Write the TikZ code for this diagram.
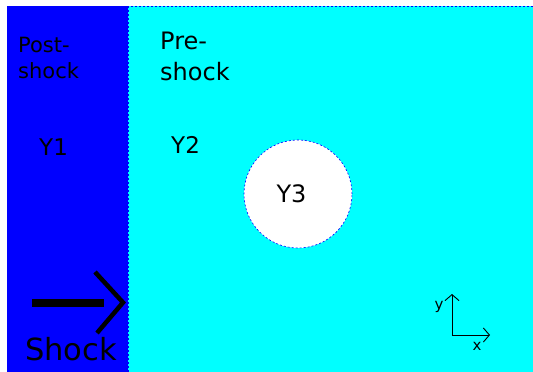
\documentclass[tikz,border=0pt]{standalone}
\usepackage{fontspec}
\setmainfont{DejaVu Sans}
\usetikzlibrary{arrows.meta}
\definecolor{postblue}{HTML}{0000FF}
\definecolor{precyan}{HTML}{00FFFF}
\tikzset{
  region/.style={draw=postblue, line width=0.6pt, dash pattern=on 2pt off 2pt},
  lbl/.style={inner sep=0pt, text=black},
  axisarrow/.style={line width=0.9pt, -{Straight Barb[length=6pt,width=14pt]}},
}
\begin{document}
\begin{tikzpicture}[x=1pt,y=-1pt]
  % canvas
  \fill[white] (0,0) rectangle (533,372);
  \useasboundingbox (0,0) rectangle (533,372);

  % post-shock and pre-shock regions
  \fill[postblue] (7,6) rectangle (128,372);
  \fill[precyan] (128,6) rectangle (533,372);
  \draw[region] (7,6) -- (533,6);
  \draw[region] (128,6) -- (128,372);

  % region labels
  \node[lbl, anchor=north west, align=left, font=\fontsize{21}{26}\selectfont] (post) at (18,36.5) {Post-\\shock};
  \node[lbl, anchor=north west, align=left, font=\fontsize{24}{31}\selectfont] (pre) at (160,31.5) {Pre-\\shock};
  \node[lbl, anchor=base west, font=\fontsize{23}{27}\selectfont] (y1) at (39,155) {Y1};
  \node[lbl, anchor=base west, font=\fontsize{23}{27}\selectfont] (y2) at (171,153) {Y2};

  % inclusion
  \node[circle, minimum size=108pt, inner sep=0pt, fill=white, region,
        label={[lbl, xshift=-6.5pt, font=\fontsize{24}{28}\selectfont]center:Y3}] (y3) at (298,194) {};

  % shock direction arrow
  \coordinate (shaftL) at (32,303);
  \coordinate (shaftR) at (104,303);
  \coordinate (chevA) at (95,272);
  \coordinate (chevTip) at (123,302.5);
  \coordinate (chevB) at (97,333);
  \draw[line width=8pt] (shaftL) -- (shaftR);
  \draw[line width=4.5pt, miter limit=10] (chevA) -- (chevTip) -- (chevB);
  \node[lbl, anchor=base west, font=\fontsize{30.5}{34}\selectfont] (shock) at (25,360) {Shock};

  % coordinate axes
  \coordinate (origin) at (452,335);
  \coordinate (ytip) at (452,294);
  \coordinate (xtip) at (490,335);
  \draw[axisarrow] (origin) -- (ytip);
  \draw[axisarrow] (origin) -- (xtip);
  \node[lbl, font=\fontsize{15}{18}\selectfont] (ylab) at (439,307) {y};
  \node[lbl, font=\fontsize{15}{18}\selectfont] (xlab) at (477,346) {x};
\end{tikzpicture}
\end{document}
